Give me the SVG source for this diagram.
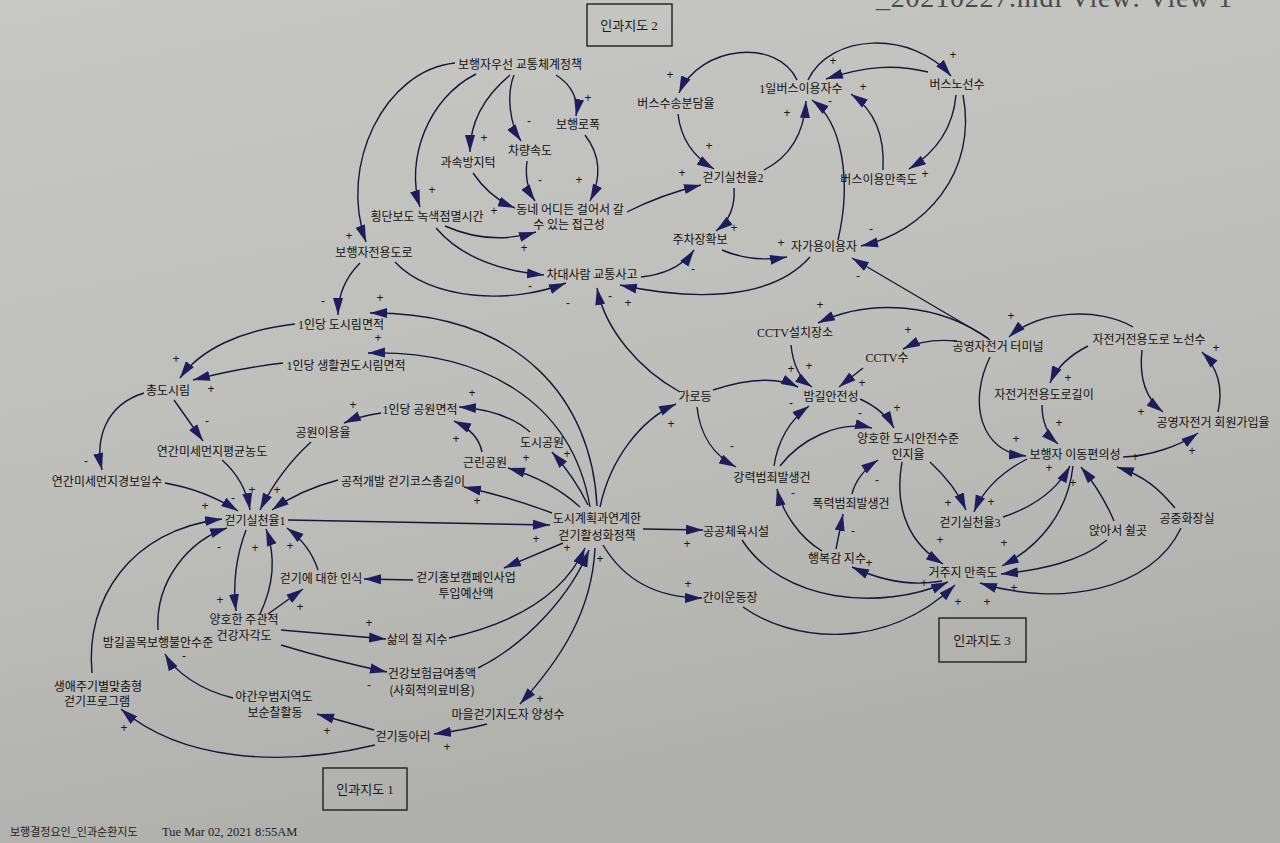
<svg xmlns="http://www.w3.org/2000/svg" width="1280" height="843" viewBox="0 0 1280 843">
<defs>
<linearGradient id="bg" x1="0" y1="0" x2="0.3" y2="1">
<stop offset="0" stop-color="#c7c7c3"/>
<stop offset="0.6" stop-color="#bdbdb9"/>
<stop offset="1" stop-color="#afafab"/>
</linearGradient>
<marker id="ah" viewBox="0 0 17 11" refX="17" refY="5.5" markerWidth="17" markerHeight="11" markerUnits="userSpaceOnUse" orient="auto">
<path d="M0,0.5 L17,5.5 L0,10.5 z" fill="#1d1d5e"/>
</marker>
</defs>
<style>
.n{font-family:"Noto Sans CJK KR","Noto Sans",sans-serif;font-size:12px;fill:#111;text-anchor:middle}
.s{font-family:"Liberation Serif",serif}
.l{font-family:"Liberation Sans",sans-serif;font-size:12px;fill:#1a1a1a;text-anchor:middle}
.e{fill:none;stroke:#16163e;stroke-width:1.4;marker-end:url(#ah)}
.b{fill:none;stroke:#1e1e1e;stroke-width:1.4}
.bt{font-family:"Noto Sans CJK KR",sans-serif;font-size:13px;fill:#1a1a1a;text-anchor:middle}
</style>
<rect x="0" y="0" width="1280" height="843" fill="url(#bg)"/>
<text x="876" y="7" font-family="Liberation Serif, serif" font-size="28" fill="#4a4a4a" textLength="356">_20210227.mdl View:  View 1</text>

<g id="connectors">
<path class="e" d="M455,63 C385,70 338,165 366,242"/>
<path class="e" d="M476,74 C428,98 405,160 420,207"/>
<path class="e" d="M510,75 C486,95 470,120 470,152"/>
<path class="e" d="M514,75 C506,95 510,125 521,141"/>
<path class="e" d="M556,75 C572,85 579,100 576,116"/>
<path class="e" d="M473,173 Q490,198 515,208"/>
<path class="e" d="M527,161 Q524,185 535,201"/>
<path class="e" d="M585,135 Q608,165 590,201"/>
<path class="e" d="M445,226 Q490,246 536,232"/>
<path class="e" d="M436,228 Q470,268 544,275"/>
<path class="e" d="M627,212 Q660,195 701,185"/>
<path class="e" d="M678,114 Q682,150 714,169"/>
<path class="e" d="M797,80 C778,38 700,45 679,93"/>
<path class="e" d="M764,170 Q803,150 806,101"/>
<path class="e" d="M734,188 Q736,216 716,231"/>
<path class="e" d="M722,250 Q752,263 787,257"/>
<path class="e" d="M641,277 Q678,273 694,250"/>
<path class="e" d="M810,257 C770,302 690,300 620,285"/>
<path class="e" d="M808,80 C830,33 912,30 951,76"/>
<path class="e" d="M928,72 C895,64 866,66 826,79"/>
<path class="e" d="M883,170 Q886,118 851,94"/>
<path class="e" d="M956,95 Q952,142 909,169"/>
<path class="e" d="M963,95 C978,172 925,232 861,246"/>
<path class="e" d="M988,338 L852,258"/>
<path class="e" d="M838,240 C852,180 842,122 812,100"/>
<path class="e" d="M395,262 C430,300 510,305 566,283"/>
<path class="e" d="M360,263 Q338,285 338,315"/>

<path class="e" d="M597,506 C592,400 520,312 370,313"/>
<path class="e" d="M590,507 C572,400 480,350 368,353"/>
<path class="e" d="M295,324 C240,330 200,350 180,378"/>
<path class="e" d="M283,363 Q240,368 193,380"/>
<path class="e" d="M144,393 C105,405 95,440 102,470"/>
<path class="e" d="M174,400 L203,441"/>
<path class="e" d="M381,413 Q360,416 344,423"/>
<path class="e" d="M311,442 Q280,470 260,510"/>
<path class="e" d="M222,460 Q245,480 250,510"/>
<path class="e" d="M165,483 Q205,490 238,511"/>
<path class="e" d="M338,480 Q300,490 272,510"/>
<path class="e" d="M552,513 Q510,497 464,487"/>
<path class="e" d="M580,507 Q550,480 508,468"/>
<path class="e" d="M588,505 Q575,478 552,452"/>
<path class="e" d="M482,452 Q478,432 454,421"/>
<path class="e" d="M530,432 Q505,410 459,407"/>
<path class="e" d="M288,520 L550,525"/>
<path class="e" d="M600,507 C610,460 640,420 676,404"/>
<path class="e" d="M680,392 C640,370 605,330 597,288"/>
<path class="e" d="M643,529 L703,530"/>
<path class="e" d="M603,545 C625,582 660,598 702,598"/>
<path class="e" d="M563,543 L504,568"/>
<path class="e" d="M413,580 L364,579"/>
<path class="e" d="M318,570 Q310,545 287,528"/>
<path class="e" d="M246,530 Q231,570 236,611"/>
<path class="e" d="M260,614 Q281,570 266,529"/>
<path class="e" d="M268,614 L303,589"/>
<path class="e" d="M281,630 L386,639"/>
<path class="e" d="M281,645 Q330,660 387,672"/>
<path class="e" d="M449,638 C520,622 565,592 585,548"/>
<path class="e" d="M478,668 C530,642 572,592 589,550"/>
<path class="e" d="M595,548 C592,612 560,660 520,704"/>
<path class="e" d="M487,724 Q465,730 434,734"/>
<path class="e" d="M374,730 L317,714"/>
<path class="e" d="M375,745 C280,768 180,760 121,709"/>
<path class="e" d="M233,698 C200,690 175,672 165,654"/>
<path class="e" d="M158,630 C155,580 190,540 227,528"/>
<path class="e" d="M92,673 C85,600 130,530 222,519"/>

<path class="e" d="M990,340 C940,303 870,298 818,323"/>
<path class="e" d="M957,341 Q925,338 903,349"/>
<path class="e" d="M791,345 Q794,375 812,387"/>
<path class="e" d="M863,368 L839,387"/>
<path class="e" d="M713,390 C750,378 778,377 798,387"/>
<path class="e" d="M697,407 C700,436 715,456 736,467"/>
<path class="e" d="M774,466 C778,440 790,420 809,406"/>
<path class="e" d="M780,466 C800,440 838,420 872,428"/>
<path class="e" d="M860,399 Q884,410 894,428"/>
<path class="e" d="M852,494 Q857,474 878,460"/>
<path class="e" d="M836,549 L843,514"/>
<path class="e" d="M822,551 C800,538 782,512 777,489"/>
<path class="e" d="M942,581 C910,587 880,580 852,567"/>
<path class="e" d="M930,462 Q955,485 966,510"/>
<path class="e" d="M902,462 C893,512 912,545 943,564"/>
<path class="e" d="M1027,459 C1000,473 983,490 974,512"/>
<path class="e" d="M1003,517 C1036,506 1057,490 1070,466"/>
<path class="e" d="M1073,466 C1068,512 1040,546 1002,566"/>
<path class="e" d="M1114,521 C1105,500 1095,484 1081,467"/>
<path class="e" d="M1107,540 C1080,562 1040,570 1001,574"/>
<path class="e" d="M1175,508 C1160,490 1145,476 1117,467"/>
<path class="e" d="M1181,528 C1152,590 1060,608 980,583"/>
<path class="e" d="M990,357 C968,402 980,452 1026,456"/>
<path class="e" d="M1133,327 C1100,307 1038,310 1009,337"/>
<path class="e" d="M1088,346 Q1060,360 1050,383"/>
<path class="e" d="M1042,405 Q1042,430 1058,444"/>
<path class="e" d="M1142,350 C1138,385 1150,402 1163,412"/>
<path class="e" d="M1218,412 C1224,385 1215,365 1202,352"/>
<path class="e" d="M1123,457 C1150,456 1180,446 1198,433"/>
<path class="e" d="M742,540 C782,602 880,612 948,582"/>
<path class="e" d="M743,607 C792,642 885,652 955,585"/>

<g id="polarity">
<text class="l" x="349" y="240">+</text>
<text class="l" x="432" y="194">+</text>
<text class="l" x="484" y="142">+</text>
<text class="l" x="529" y="125">-</text>
<text class="l" x="588" y="102">+</text>
<text class="l" x="494" y="215">+</text>
<text class="l" x="540" y="184">-</text>
<text class="l" x="579" y="184">+</text>
<text class="l" x="524" y="252">+</text>
<text class="l" x="530" y="290">-</text>
<text class="l" x="682" y="177">+</text>
<text class="l" x="709" y="150">+</text>
<text class="l" x="670" y="79">+</text>
<text class="l" x="787" y="117">+</text>
<text class="l" x="734" y="232">+</text>
<text class="l" x="781" y="247">+</text>
<text class="l" x="693" y="273">-</text>
<text class="l" x="610" y="300">-</text>
<text class="l" x="628" y="307">+</text>
<text class="l" x="568" y="307">-</text>
<text class="l" x="833" y="65">+</text>
<text class="l" x="830" y="105">-</text>
<text class="l" x="953" y="59">+</text>
<text class="l" x="863" y="91">+</text>
<text class="l" x="925" y="178">+</text>
<text class="l" x="871" y="233">-</text>
<text class="l" x="858" y="280">-</text>

<text class="l" x="323" y="305">-</text>
<text class="l" x="380" y="302">+</text>
<text class="l" x="378" y="342">+</text>
<text class="l" x="176" y="363">+</text>
<text class="l" x="211" y="393">+</text>
<text class="l" x="86" y="465">-</text>
<text class="l" x="207" y="425">-</text>
<text class="l" x="353" y="409">+</text>
<text class="l" x="252" y="494">+</text>
<text class="l" x="277" y="494">+</text>
<text class="l" x="233" y="502">-</text>
<text class="l" x="205" y="510">+</text>
<text class="l" x="219" y="551">-</text>
<text class="l" x="255" y="552">+</text>
<text class="l" x="290" y="550">+</text>
<text class="l" x="472" y="397">+</text>
<text class="l" x="456" y="443">+</text>
<text class="l" x="526" y="462">+</text>
<text class="l" x="567" y="458">+</text>
<text class="l" x="477" y="505">+</text>
<text class="l" x="536" y="543">+</text>
<text class="l" x="567" y="552">+</text>
<text class="l" x="600" y="563">+</text>
<text class="l" x="671" y="428">+</text>
<text class="l" x="687" y="548">+</text>
<text class="l" x="688" y="588">+</text>
<text class="l" x="220" y="604">+</text>
<text class="l" x="300" y="611">+</text>
<text class="l" x="369" y="627">+</text>
<text class="l" x="369" y="689">-</text>
<text class="l" x="184" y="660">-</text>
<text class="l" x="124" y="732">+</text>
<text class="l" x="327" y="735">+</text>
<text class="l" x="447" y="751">+</text>
<text class="l" x="540" y="703">+</text>

<text class="l" x="820" y="309">+</text>
<text class="l" x="908" y="334">+</text>
<text class="l" x="791" y="373">+</text>
<text class="l" x="809" y="370">+</text>
<text class="l" x="862" y="387">+</text>
<text class="l" x="791" y="407">-</text>
<text class="l" x="860" y="417">-</text>
<text class="l" x="897" y="412">+</text>
<text class="l" x="732" y="450">-</text>
<text class="l" x="877" y="484">-</text>
<text class="l" x="793" y="497">-</text>
<text class="l" x="853" y="535">-</text>
<text class="l" x="948" y="507">+</text>
<text class="l" x="991" y="506">+</text>
<text class="l" x="940" y="544">+</text>
<text class="l" x="1004" y="547">+</text>
<text class="l" x="869" y="567">+</text>
<text class="l" x="924" y="587">+</text>
<text class="l" x="1011" y="320">+</text>
<text class="l" x="1068" y="382">+</text>
<text class="l" x="1059" y="427">+</text>
<text class="l" x="1141" y="416">+</text>
<text class="l" x="1216" y="352">+</text>
<text class="l" x="1192" y="455">+</text>
<text class="l" x="1135" y="461">+</text>
<text class="l" x="1049" y="472">+</text>
<text class="l" x="1073" y="487">+</text>
<text class="l" x="1016" y="443">+</text>
<text class="l" x="958" y="606">+</text>
<text class="l" x="987" y="606">+</text>
<text class="l" x="1014" y="592">+</text>
</g>
</g>

<g id="box2"><rect class="b" x="587" y="4" width="85" height="42"/><text class="bt" x="629" y="30">인과지도 <tspan class="s">2</tspan></text></g>
<g id="box3"><rect class="b" x="939" y="618" width="87" height="44"/><text class="bt" x="982" y="645">인과지도 <tspan class="s">3</tspan></text></g>
<g id="box1"><rect class="b" x="323" y="768" width="84" height="42"/><text class="bt" x="365" y="794">인과지도 <tspan class="s">1</tspan></text></g>

<g id="n_pedpolicy"><text class="n" x="520" y="69">보행자우선 교통체계정책</text></g>
<g id="n_sidewalk"><text class="n" x="578" y="129">보행로폭</text></g>
<g id="n_speed"><text class="n" x="530" y="155">차량속도</text></g>
<g id="n_bump"><text class="n" x="468" y="167">과속방지턱</text></g>
<g id="n_access"><text class="n" x="570" y="214">동네 어디든 걸어서 갈</text><text class="n" x="569" y="229">수 있는 접근성</text></g>
<g id="n_crosswalk"><text class="n" x="427" y="221">횡단보도 녹색점멸시간</text></g>
<g id="n_pedroad"><text class="n" x="374" y="257">보행자전용도로</text></g>
<g id="n_accident"><text class="n" x="592" y="279">차대사람 교통사고</text></g>
<g id="n_busshare"><text class="n" x="676" y="108">버스수송분담율</text></g>
<g id="n_busdaily"><text class="n" x="801" y="93"><tspan class="s">1</tspan>일버스이용자수</text></g>
<g id="n_busroute"><text class="n" x="957" y="89">버스노선수</text></g>
<g id="n_walk2"><text class="n" x="733" y="182">걷기실천율<tspan class="s">2</tspan></text></g>
<g id="n_bussat"><text class="n" x="879" y="184">버스이용만족도</text></g>
<g id="n_parking"><text class="n" x="700" y="244">주차장확보</text></g>
<g id="n_car"><text class="n" x="824" y="251">자가용이용자</text></g>

<g id="n_forest"><text class="n" x="341" y="329"><tspan class="s">1</tspan>인당 도시림면적</text></g>
<g id="n_lifeforest"><text class="n" x="346" y="370"><tspan class="s">1</tspan>인당 생활권도시림면적</text></g>
<g id="n_totalforest"><text class="n" x="168" y="395">총도시림</text></g>
<g id="n_dustavg"><text class="n" x="212" y="456">연간미세먼지평균농도</text></g>
<g id="n_parkuse"><text class="n" x="323" y="437">공원이용율</text></g>
<g id="n_parkarea"><text class="n" x="420" y="414"><tspan class="s">1</tspan>인당 공원면적</text></g>
<g id="n_dustdays"><text class="n" x="107" y="486">연간미세먼지경보일수</text></g>
<g id="n_course"><text class="n" x="403" y="486">공적개발 걷기코스총길이</text></g>
<g id="n_walk1"><text class="n" x="255" y="525">걷기실천율<tspan class="s">1</tspan></text></g>
<g id="n_citypark"><text class="n" x="542" y="447">도시공원</text></g>
<g id="n_nbpark"><text class="n" x="485" y="467">근린공원</text></g>
<g id="n_policy"><text class="n" x="597" y="523">도시계획과연계한</text><text class="n" x="597" y="540">걷기활성화정책</text></g>
<g id="n_light"><text class="n" x="695" y="401">가로등</text></g>
<g id="n_sports"><text class="n" x="736" y="536">공공체육시설</text></g>
<g id="n_gym"><text class="n" x="730" y="602">간이운동장</text></g>
<g id="n_campaign"><text class="n" x="466" y="582">걷기홍보캠페인사업</text><text class="n" x="466" y="598">투입예산액</text></g>
<g id="n_aware"><text class="n" x="321" y="583">걷기에 대한 인식</text></g>
<g id="n_health"><text class="n" x="244" y="624">양호한 주관적</text><text class="n" x="244" y="640">건강자각도</text></g>
<g id="n_life"><text class="n" x="417" y="644">삶의 질 지수</text></g>
<g id="n_anxiety"><text class="n" x="158" y="647">밤길골목보행불안수준</text></g>
<g id="n_insurance"><text class="n" x="432" y="678">건강보험급여총액</text><text class="n" x="432" y="695">(사회적의료비용)</text></g>
<g id="n_program"><text class="n" x="98" y="691">생애주기별맞춤형</text><text class="n" x="97" y="706">걷기프로그램</text></g>
<g id="n_patrol"><text class="n" x="274" y="701">야간우범지역도</text><text class="n" x="275" y="717">보순찰활동</text></g>
<g id="n_leader"><text class="n" x="508" y="719">마을걷기지도자 양성수</text></g>
<g id="n_club"><text class="n" x="403" y="741">걷기동아리</text></g>

<g id="n_cctvplace"><text class="n" x="795" y="337"><tspan class="s">CCTV</tspan>설치장소</text></g>
<g id="n_cctvnum"><text class="n" x="887" y="362"><tspan class="s">CCTV</tspan>수</text></g>
<g id="n_nightsafe"><text class="n" x="831" y="401">밤길안전성</text></g>
<g id="n_terminal"><text class="n" x="998" y="351">공영자전거 터미널</text></g>
<g id="n_safeaware"><text class="n" x="908" y="443">양호한 도시안전수준</text><text class="n" x="908" y="459">인지율</text></g>
<g id="n_crime"><text class="n" x="772" y="482">강력범죄발생건</text></g>
<g id="n_violence"><text class="n" x="851" y="508">폭력범죄발생건</text></g>
<g id="n_happy"><text class="n" x="837" y="563">행복감 지수</text></g>
<g id="n_walk3"><text class="n" x="970" y="527">걷기실천율<tspan class="s">3</tspan></text></g>
<g id="n_resident"><text class="n" x="963" y="577">거주지 만족도</text></g>
<g id="n_bikeroutes"><text class="n" x="1149" y="344">자전거전용도로 노선수</text></g>
<g id="n_bikelen"><text class="n" x="1044" y="399">자전거전용도로길이</text></g>
<g id="n_bikemember"><text class="n" x="1213" y="427">공영자전거 회원가입율</text></g>
<g id="n_pedconv"><text class="n" x="1075" y="459">보행자 이동편의성</text></g>
<g id="n_bench"><text class="n" x="1118" y="535">앉아서 쉴곳</text></g>
<g id="n_toilet"><text class="n" x="1187" y="523">공중화장실</text></g>

<g id="footer"><text x="10" y="836" font-family="Noto Sans CJK KR, sans-serif" font-size="11" fill="#222">보행결정요인_인과순환지도</text><text x="162" y="836" font-family="Liberation Serif, serif" font-size="12.5" fill="#222">Tue Mar 02, 2021 8:55AM</text></g>
</svg>
